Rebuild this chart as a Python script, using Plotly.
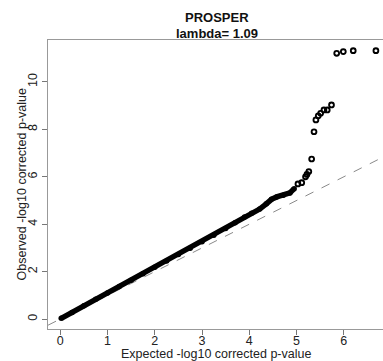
import plotly.graph_objects as go

# Dense part of the QQ curve
band_x = [0.02, 0.25, 0.5, 0.75, 1.0, 1.25, 1.5, 1.75, 2.0, 2.25, 2.5, 2.75,
          3.0, 3.25, 3.5, 3.7, 3.9, 4.05, 4.22, 4.36, 4.47, 4.58, 4.72, 4.86, 4.95]
band_y = [0.03, 0.28, 0.56, 0.83, 1.1, 1.37, 1.64, 1.91, 2.18, 2.45, 2.72, 2.99,
          3.26, 3.53, 3.82, 4.06, 4.3, 4.46, 4.64, 4.86, 5.05, 5.15, 5.22, 5.32, 5.5]

# Isolated upper-tail points
pts_x = [5.03, 5.11, 5.19, 5.22, 5.26, 5.32, 5.37, 5.41, 5.46, 5.51, 5.58, 5.65,
         5.74, 5.85, 5.99, 6.20, 6.68]
pts_y = [5.70, 5.75, 6.0, 6.1, 6.22, 6.75, 7.90, 8.40, 8.57, 8.68, 8.82, 8.82,
         9.03, 11.21, 11.28, 11.32, 11.32]

x_ticks = [0, 1, 2, 3, 4, 5, 6]
y_ticks = [0, 2, 4, 6, 8, 10]
x_range = [-0.26, 6.83]
y_range = [-0.42, 11.77]

title_main = "PROSPER"
title_sub = "lambda= 1.09"
x_title = "Expected -log10 corrected p-value"
y_title = "Observed -log10 corrected p-value"

fig = go.Figure()

# y = x reference line
fig.add_trace(go.Scatter(
    x=x_range, y=x_range, mode="lines",
    line=dict(color="#8a8a8a", width=1, dash="dash"),
    hoverinfo="skip", showlegend=False))

fig.add_trace(go.Scatter(
    x=band_x, y=band_y, mode="lines+markers",
    line=dict(color="black", width=5.5),
    marker=dict(symbol="circle", size=5.5, color="black"),
    showlegend=False))

fig.add_trace(go.Scatter(
    x=pts_x, y=pts_y, mode="markers",
    marker=dict(symbol="circle-open", size=4.8, color="black",
                line=dict(width=1.9, color="black")),
    showlegend=False))

font_family = "Liberation Sans, Arial, sans-serif"

fig.update_layout(
    width=383, height=361,
    margin=dict(l=48, r=0, t=40, b=32, autoexpand=False),
    paper_bgcolor="white", plot_bgcolor="white",
    font=dict(family=font_family, size=12.5, color="#222"),
    xaxis=dict(range=x_range, tickvals=x_ticks, ticks="outside", ticklen=5,
               tickcolor="#777", showline=True, linecolor="#999", linewidth=1,
               mirror=True, showgrid=False, zeroline=False, automargin=False,
               ticklabelstandoff=-5, tickfont=dict(size=12.5)),
    yaxis=dict(range=y_range, tickvals=y_ticks, ticks="outside", ticklen=5,
               tickcolor="#777", showline=True, linecolor="#999", linewidth=1,
               mirror=False, showgrid=False, zeroline=False, tickangle=-90,
               automargin=False, tickfont=dict(size=12.5)),
    annotations=[
        dict(text="<b>" + title_main + "</b>", xref="paper", yref="paper",
             x=0.505, y=1.0, yshift=23, xanchor="center", yanchor="middle",
             showarrow=False, font=dict(size=13, color="#111")),
        dict(text="<b>" + title_sub + "</b>", xref="paper", yref="paper",
             x=0.505, y=1.0, yshift=7, xanchor="center", yanchor="middle",
             showarrow=False, font=dict(size=13, color="#111")),
        dict(text=x_title, xref="paper", yref="paper",
             x=0.5, y=0, yshift=-25, xanchor="center", yanchor="middle",
             showarrow=False, font=dict(size=12.5, color="#222")),
        dict(text=y_title, xref="paper", yref="paper", textangle=-90,
             x=0, xshift=-27, y=0.5, xanchor="center", yanchor="middle",
             showarrow=False, font=dict(size=12.5, color="#222")),
    ],
)

fig.write_html("out.html",
               config={"displayModeBar": False},
               post_script="document.body.style.margin='0px';"
                           "document.body.style.overflow='hidden';")
